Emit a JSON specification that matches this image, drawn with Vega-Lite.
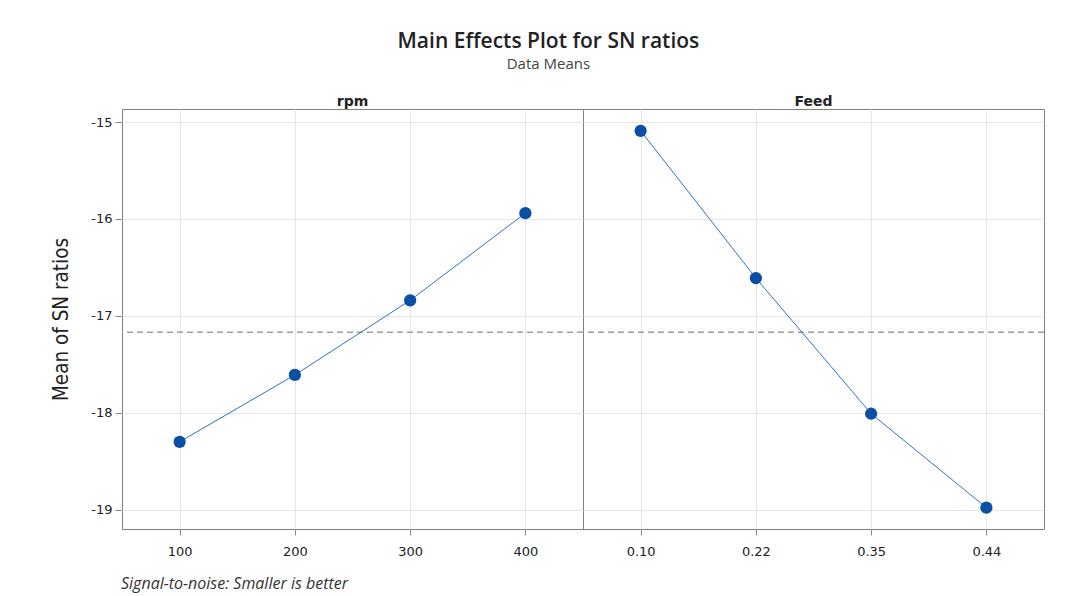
{
  "$schema": "https://vega.github.io/schema/vega-lite/v6.json",
  "background": "white",
  "padding": {"left": 51, "top": 31, "right": 40, "bottom": 4},
  "bounds": "flush",
  "title": {
    "text": "Main Effects Plot for SN ratios",
    "subtitle": "Data Means",
    "anchor": "middle",
    "frame": "bounds",
    "font": "Open Sans",
    "fontSize": 21,
    "fontWeight": 600,
    "color": "#222222",
    "subtitleFont": "Open Sans",
    "subtitleFontSize": 15,
    "subtitleColor": "#444444",
    "subtitlePadding": 5,
    "offset": 23
  },
  "data": {
    "values": [
      {"factor": "rpm", "level": "100", "sn": -18.30},
      {"factor": "rpm", "level": "200", "sn": -17.61},
      {"factor": "rpm", "level": "300", "sn": -16.84},
      {"factor": "rpm", "level": "400", "sn": -15.94},
      {"factor": "Feed", "level": "0.10", "sn": -15.09},
      {"factor": "Feed", "level": "0.22", "sn": -16.61},
      {"factor": "Feed", "level": "0.35", "sn": -18.01},
      {"factor": "Feed", "level": "0.44", "sn": -18.98}
    ]
  },
  "facet": {
    "column": {
      "field": "factor",
      "type": "nominal",
      "sort": ["rpm", "Feed"],
      "title": "Signal-to-noise: Smaller is better",
      "header": {
        "labelOrient": "top",
        "labelFont": "DejaVu Sans",
        "labelFontSize": 14,
        "labelFontWeight": "bold",
        "labelColor": "#222222",
        "labelPadding": 0,
        "titleOrient": "bottom",
        "titleAnchor": "start",
        "titleFont": "Open Sans",
        "titleFontStyle": "italic",
        "titleFontWeight": "normal",
        "titleFontSize": 16,
        "titleColor": "#333333",
        "titlePadding": 37
      }
    }
  },
  "spacing": 0,
  "resolve": {"scale": {"x": "independent"}, "axis": {"x": "independent"}},
  "spec": {
    "width": 461,
    "height": 420,
    "layer": [
      {
        "mark": {"type": "rule", "color": "#a0a0a0", "strokeDash": [6, 4], "strokeWidth": 1},
        "encoding": {"y": {"datum": -17.17, "type": "quantitative"}}
      },
      {
        "mark": {"type": "line", "color": "#2e72c4", "strokeWidth": 1},
        "encoding": {
          "x": {"field": "level", "type": "ordinal"},
          "y": {"field": "sn", "type": "quantitative"}
        }
      },
      {
        "mark": {"type": "point", "filled": true, "color": "#0a4fa3", "opacity": 1, "size": 150},
        "encoding": {
          "x": {
            "field": "level",
            "type": "ordinal",
            "scale": {"type": "point", "padding": 0.5},
            "axis": {
              "title": null,
              "labelAngle": 0,
              "labelAlign": "center",
              "labelBaseline": "top",
              "labelFlush": false,
              "grid": true,
              "gridColor": "#e6e6e6",
              "domain": false,
              "tickColor": "#888888",
              "tickSize": 6,
              "labelFont": "DejaVu Sans",
              "labelFontSize": 13,
              "labelColor": "#222222",
              "labelPadding": 10
            }
          },
          "y": {
            "field": "sn",
            "type": "quantitative",
            "scale": {"domain": [-19.2, -14.865], "nice": false, "zero": false},
            "axis": {
              "title": "Mean of SN ratios",
              "titleFont": "DejaVu Sans Condensed",
              "titleFontSize": 20.5,
              "titleFontWeight": "normal",
              "titleColor": "#222222",
              "titlePadding": 19,
              "values": [-15, -16, -17, -18, -19],
              "labelExpr": "'-' + abs(datum.value)",
              "grid": true,
              "gridColor": "#e6e6e6",
              "domain": false,
              "tickColor": "#888888",
              "tickSize": 7,
              "labelFont": "DejaVu Sans",
              "labelFontSize": 13,
              "labelColor": "#222222",
              "labelPadding": 3
            }
          }
        }
      }
    ]
  },
  "config": {
    "view": {"stroke": "#808080", "strokeWidth": 1}
  }
}
